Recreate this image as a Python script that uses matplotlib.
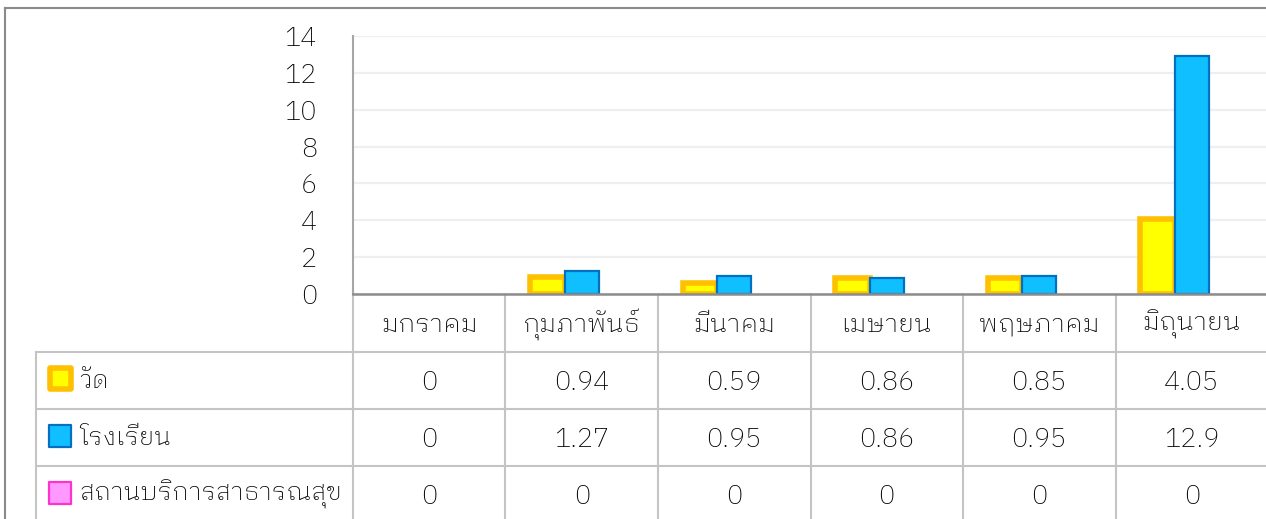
import numpy as np
import matplotlib
matplotlib.use('Agg')
import matplotlib.pyplot as plt
from matplotlib.patches import Rectangle
from matplotlib.lines import Line2D
from matplotlib.transforms import blended_transform_factory

plt.rcParams['font.family'] = ['IBM Plex Sans Thai Looped', 'DejaVu Sans']
plt.rcParams['font.weight'] = 'light'

months = ['มกราคม', 'กุมภาพันธ์', 'มีนาคม', 'เมษายน', 'พฤษภาคม', 'มิถุนายน']
series_names = ['วัด', 'โรงเรียน', 'สถานบริการสาธารณสุข']
temple = [0, 0.94, 0.59, 0.86, 0.85, 4.05]
school = [0, 1.27, 0.95, 0.86, 0.95, 12.9]
health = [0, 0, 0, 0, 0, 0]
values = [temple, school, health]

faces = ['#FFFF00', '#0FBFFF', '#FF99FF']
edges = ['#FFC000', '#0070C0', '#FF33CC']
edge_w = [4.0, 1.6, 1.6]
fs = 19
txt_c = '#000000'

W, H = 1266, 519
fig = plt.figure(figsize=(W / 100, H / 100), dpi=100)

# pixel overlay for the data table and chart frame
tab = fig.add_axes([0, 0, 1, 1], zorder=0)
tab.set_xlim(0, W)
tab.set_ylim(H, 0)
tab.axis('off')

ax = fig.add_axes([353 / W, 1 - 294 / H, (1268 - 353) / W, (294 - 36) / H], zorder=1)
ax.patch.set_alpha(0)
x = np.arange(len(months))
bw = 0.225
for k, vals in enumerate(values):
    vals = np.array(vals, dtype=float)
    keep = vals > 0  # zero bars are not drawn at all
    ax.bar(x[keep] + (k - 1) * bw, vals[keep], bw, color=faces[k],
           edgecolor=edges[k], linewidth=edge_w[k], zorder=2)

ax.set_xlim(-0.5, len(months) - 0.5)
ax.set_ylim(0, 14)
ax.set_yticks(range(0, 15, 2))
ax.set_xticks([])
ax.grid(axis='y', color='#EFEFEF', linewidth=1.6)
ax.set_axisbelow(True)
ax.tick_params(axis='y', length=0, pad=26, labelsize=fs + 0.5, labelcolor=txt_c)
for s in ['top', 'right']:
    ax.spines[s].set_visible(False)
ax.spines['left'].set_color('#A6A6A6')
ax.spines['left'].set_linewidth(1.5)
ax.spines['bottom'].set_color('#8C8C8C')
ax.spines['bottom'].set_linewidth(1.8)
ax.spines['bottom'].set_zorder(3)

# outer chart frame
tab.add_line(Line2D([5, W + 5], [8, 8], color='#8A8A8A', lw=1.5))
tab.add_line(Line2D([5, 5], [8, H + 5], color='#8A8A8A', lw=1.5))

# data table under the axis
grid_c = '#C4C4C4'
row_y = [294, 352, 409, 466, 523]
xt = blended_transform_factory(ax.transData, tab.transData)
for b in np.arange(-0.5, len(months), 1.0):
    tab.add_line(Line2D([b, b], [294, H + 5], color=grid_c, lw=1.5, transform=xt))
for yy in row_y[1:4]:
    tab.add_line(Line2D([36, W + 5], [yy, yy], color=grid_c, lw=1.5))
tab.add_line(Line2D([36, 36], [352, H + 5], color=grid_c, lw=1.5))

for i, m in enumerate(months):
    tab.text(i, (row_y[0] + row_y[1]) / 2 + 1, m, transform=xt, ha='center',
             va='center', fontsize=fs, color=txt_c)

key_size = [21, 22, 22]
for r, name in enumerate(series_names):
    yc = (row_y[r + 1] + row_y[r + 2]) / 2
    s = key_size[r]
    tab.add_patch(Rectangle((60 - s / 2, yc - 2 - s / 2), s, s, facecolor=faces[r],
                            edgecolor=edges[r], lw=edge_w[r] if r == 0 else 1.6,
                            joinstyle='round'))
    tab.text(79, yc, name, ha='left', va='center', fontsize=18.4, color=txt_c)
    for i, v in enumerate(values[r]):
        tab.text(i, yc + 2, '%g' % v, transform=xt, ha='center', va='center',
                 fontsize=fs + 0.5, color=txt_c)

fig.savefig('out.png', dpi=100)
